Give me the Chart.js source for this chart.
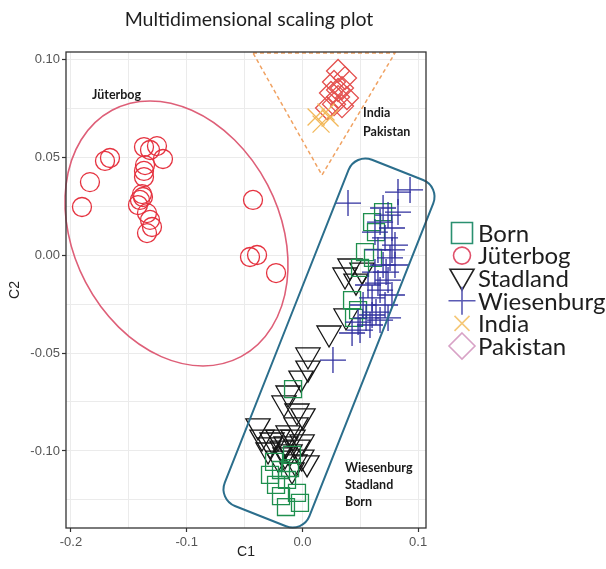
<!DOCTYPE html>
<html>
<head>
<meta charset="utf-8">
<script src="https://cdn.jsdelivr.net/npm/chart.js@4/dist/chart.umd.min.js"></script>
<style>
  html, body { margin: 0; padding: 0; background: #ffffff; }
  #wrap { width: 606px; height: 569px; position: relative; }
</style>
</head>
<body>
<div id="wrap"><canvas id="mds" width="606" height="569"></canvas></div>
<script>
// ---- MDS coordinates (C1, C2) for each population ----
const seriesNames = ['Born', 'Jüterbog', 'Stadland', 'Wiesenburg', 'India', 'Pakistan'];

const bornC1 = [0.0697, 0.0602, 0.0636, 0.0541, 0.0610, 0.0498, 0.0429, 0.0481, 0.0446, -0.0081,
                -0.0245, -0.0185, -0.0107, -0.0228, -0.0133, -0.0047, -0.0185, -0.0142, -0.0021, -0.0280, -0.0090];
const bornC2 = [0.0219, 0.0168, 0.0117, 0.0015, -0.0015, -0.0066, -0.0230, -0.0281, -0.0321, -0.0684,
                -0.1056, -0.1097, -0.1087, -0.1173, -0.1148, -0.1214, -0.1230, -0.1286, -0.1265, -0.1122, -0.1020];

const jutC1 = [-0.1905, -0.1836, -0.1706, -0.1663, -0.1369, -0.1257, -0.1317, -0.1205, -0.1360, -0.1369,
               -0.1369, -0.1386, -0.1378, -0.1404, -0.1421, -0.1343, -0.1317, -0.1300, -0.1343, -0.0427,
               -0.0453, -0.0392, -0.0228];
const jutC2 = [0.0245, 0.0372, 0.0480, 0.0495, 0.0551, 0.0556, 0.0536, 0.0490, 0.0459, 0.0429,
               0.0398, 0.0311, 0.0296, 0.0281, 0.0255, 0.0214, 0.0179, 0.0143, 0.0112, 0.0281,
               -0.0010, 0.0000, -0.0092];

const stadC1 = [0.0411, 0.0368, 0.0463, 0.0515, 0.0377, 0.0230, 0.0048, 0.0048, -0.0012, -0.0159,
                -0.0047, 0.0005, -0.0384, -0.0055, -0.0211, -0.0081, -0.0003, -0.0349, -0.0263, -0.0124,
                -0.0297, -0.0176, -0.0107, -0.0005, 0.0040, -0.0211, -0.0064, -0.0142, -0.0124,
                -0.0150, -0.0038, -0.0280, -0.0090];
const stadC2 = [-0.0056, -0.0102, -0.0133, -0.0077, -0.0311, -0.0398, -0.0510, -0.0577, -0.0628, -0.0755,
                -0.0796, -0.0821, -0.0872, -0.0867, -0.0929, -0.0929, -0.0954, -0.0929, -0.0944, -0.0908,
                -0.0995, -0.0985, -0.1005, -0.1031, -0.1061, -0.1036, -0.1056, -0.0964, -0.0704,
                -0.1020, -0.0980, -0.0969, -0.1097];

const wiesC1 = [0.0394, 0.0826, 0.0930, 0.0697, 0.0740, 0.0671, 0.0774, 0.0714, 0.0800, 0.0653,
                0.0757, 0.0697, 0.0627, 0.0740, 0.0671, 0.0602, 0.0714, 0.0636, 0.0550, 0.0584,
                0.0498, 0.0429, 0.0671, 0.0264, 0.0800, 0.0567,
                0.0774, 0.0723, 0.0653, 0.0774, 0.0524, 0.0602, 0.0740, 0.0481, 0.0627, 0.0826];
const wiesC2 = [0.0265, 0.0321, 0.0332, 0.0240, 0.0204, 0.0168, 0.0138, 0.0087, 0.0051, 0.0026,
                -0.0015, -0.0051, -0.0087, -0.0128, -0.0179, -0.0219, -0.0255, -0.0291, -0.0321, -0.0357,
                -0.0383, -0.0398, -0.0332, -0.0536, -0.0051, -0.0153,
                0.0026, -0.0087, -0.0143, -0.0204, -0.0255, -0.0306, -0.0321, -0.0342, 0.0117, 0.0219];

const indiaC1 = [0.0118, 0.0204, 0.0161, 0.0239];
const indiaC2 = [0.0704, 0.0730, 0.0668, 0.0699];

const pakC1 = [0.0308, 0.0368, 0.0273, 0.0342, 0.0247, 0.0308, 0.0385, 0.0273, 0.0342, 0.0213, 0.0308];
const pakC2 = [0.0939, 0.0903, 0.0883, 0.0852, 0.0827, 0.0806, 0.0801, 0.0770, 0.0760, 0.0750, 0.0842];

// ---- axes ----
const c1Range = [-0.2043, 0.1068];
const c2Range = [-0.1393, 0.1036];
const c1Ticks = [-0.2, -0.1, 0.0, 0.1];
const c1TickLabels = ['-0.2', '-0.1', '0.0', '0.1'];
const c1Minor = [-0.15, -0.05, 0.05];
const c2Ticks = [-0.10, -0.05, 0.00, 0.05, 0.10];
const c2TickLabels = ['-0.10', '-0.05', '0.00', '0.05', '0.10'];
const c2Minor = [-0.125, -0.075, -0.025, 0.025, 0.075];

// ---- group outlines (data units) ----
const jutEllipseCentre = [-0.1088, 0.0110];
const jutEllipseAxisA = [-0.0229, 0.0676];
const jutEllipseAxisB = [0.0936, 0.0];
const southAsiaTriangle = [[-0.0427, 0.1031], [0.0800, 0.1031], [0.0169, 0.0408]];
const germanBox = [[0.0456, 0.0520], [0.1188, 0.0349], [0.0003, -0.1418], [-0.0728, -0.1247]];

// ---- group labels (data units) ----
const groupLabels = [
  { text: 'Jüterbog', at: [-0.1818, 0.0816] },
  { text: 'India', at: [0.0524, 0.0724] },
  { text: 'Pakistan', at: [0.0524, 0.0628] },
  { text: 'Wiesenburg', at: [0.0368, -0.1087] },
  { text: 'Stadland', at: [0.0368, -0.1173] },
  { text: 'Born', at: [0.0368, -0.1260] }
];

const zip = (xs, ys) => xs.map((x, i) => ({ x: x, y: ys[i] }));
const idx = (v, arr) => arr.findIndex(a => Math.abs(a - v) < 1e-9);

// marker styling per series (same order as seriesNames)
const markers = [
  { style: 'rect',      radius: 12,   rotation: 0,   color: '#1f8f4e', key: 'square' },
  { style: 'circle',    radius: 9.5,  rotation: 0,   color: '#e5323f', key: 'circle' },
  { style: 'triangle',  radius: 14,   rotation: 180, color: '#151515', key: 'tri' },
  { style: 'cross',     radius: 13,   rotation: 0,   color: '#30309f', key: 'plus' },
  { style: 'crossRot',  radius: 12,   rotation: 0,   color: '#f2b85a', key: 'x' },
  { style: 'rectRot',   radius: 11.5, rotation: 0,   color: '#e4504e', key: 'diamond' }
];
const legendColors = ['#2a9070', '#e0506a', '#222222', '#5a5ab4', '#f5c878', '#d8a2c6'];
const drawOrder = [1, 2, 3, 0, 4, 5];

const seriesData = [
  zip(bornC1, bornC2), zip(jutC1, jutC2), zip(stadC1, stadC2),
  zip(wiesC1, wiesC2), zip(indiaC1, indiaC2), zip(pakC1, pakC2)
];

const datasets = seriesNames.map((name, i) => ({
  label: name,
  data: seriesData[i],
  order: drawOrder[i],
  pointStyle: markers[i].style,
  pointRadius: markers[i].radius,
  pointRotation: markers[i].rotation,
  pointBorderWidth: 1.3,
  pointBorderColor: markers[i].color,
  pointBackgroundColor: 'rgba(0,0,0,0)',
  showLine: false
}));

function legendSymbol(ctx, key, cx, cy, color) {
  ctx.save();
  ctx.strokeStyle = color;
  ctx.lineWidth = 1.6;
  ctx.beginPath();
  if (key === 'square') {
    ctx.rect(cx - 10.5, cy - 10.5, 21, 21);
  } else if (key === 'circle') {
    ctx.arc(cx, cy, 8.5, 0, Math.PI * 2);
  } else if (key === 'tri') {
    ctx.moveTo(cx - 12, cy - 9); ctx.lineTo(cx + 12, cy - 9); ctx.lineTo(cx, cy + 12); ctx.closePath();
  } else if (key === 'plus') {
    ctx.moveTo(cx - 13.5, cy); ctx.lineTo(cx + 13.5, cy);
    ctx.moveTo(cx, cy - 14); ctx.lineTo(cx, cy + 14);
  } else if (key === 'x') {
    ctx.moveTo(cx - 7.5, cy - 7.5); ctx.lineTo(cx + 7.5, cy + 7.5);
    ctx.moveTo(cx + 7.5, cy - 7.5); ctx.lineTo(cx - 7.5, cy + 7.5);
  } else if (key === 'diamond') {
    ctx.moveTo(cx, cy - 13); ctx.lineTo(cx + 13, cy); ctx.lineTo(cx, cy + 13); ctx.lineTo(cx - 13, cy); ctx.closePath();
  }
  ctx.stroke();
  ctx.restore();
}

function roundedPolygon(ctx, pts, r) {
  const n = pts.length;
  const last = pts[n - 1], first = pts[0];
  ctx.moveTo((last.x + first.x) / 2, (last.y + first.y) / 2);
  for (let i = 0; i < n; i++) {
    const p = pts[i], q = pts[(i + 1) % n];
    ctx.arcTo(p.x, p.y, q.x, q.y, r);
  }
  ctx.closePath();
}

const decorPlugin = {
  id: 'decor',
  afterDatasetsDraw(chart) {
    const ctx = chart.ctx;
    const xs = chart.scales.x, ys = chart.scales.y;
    const px = v => xs.getPixelForValue(v);
    const py = v => ys.getPixelForValue(v);
    const pt = d => ({ x: px(d[0]), y: py(d[1]) });

    // Jüterbog ellipse
    const kx = px(1) - px(0), ky = py(1) - py(0);
    const c = pt(jutEllipseCentre);
    ctx.save();
    ctx.save();
    ctx.transform(jutEllipseAxisA[0] * kx, jutEllipseAxisA[1] * ky,
                  jutEllipseAxisB[0] * kx, jutEllipseAxisB[1] * ky, c.x, c.y);
    ctx.beginPath();
    ctx.arc(0, 0, 1, 0, Math.PI * 2);
    ctx.restore();
    ctx.strokeStyle = '#de5f78';
    ctx.lineWidth = 1.6;
    ctx.stroke();

    // India / Pakistan dashed triangle
    const tri = southAsiaTriangle.map(pt);
    ctx.beginPath();
    ctx.moveTo(tri[0].x, tri[0].y);
    ctx.lineTo(tri[1].x, tri[1].y);
    ctx.lineTo(tri[2].x, tri[2].y);
    ctx.closePath();
    ctx.setLineDash([4, 3]);
    ctx.strokeStyle = '#f0a262';
    ctx.lineWidth = 1.5;
    ctx.stroke();
    ctx.setLineDash([]);

    // Wiesenburg / Stadland / Born rounded box
    ctx.beginPath();
    roundedPolygon(ctx, germanBox.map(pt), 18);
    ctx.strokeStyle = '#2b6e8c';
    ctx.lineWidth = 2;
    ctx.stroke();

    // group labels
    ctx.fillStyle = '#1a1a1a';
    ctx.font = 'bold 12.5px Lato, "Liberation Sans", sans-serif';
    ctx.textAlign = 'left';
    ctx.textBaseline = 'middle';
    groupLabels.forEach(l => {
      const p = pt(l.at);
      ctx.fillText(l.text, p.x, p.y);
    });
    ctx.restore();
  },
  afterDraw(chart) {
    const ctx = chart.ctx;
    const a = chart.chartArea;
    ctx.save();
    // panel border
    ctx.strokeStyle = '#333333';
    ctx.lineWidth = 1.3;
    ctx.strokeRect(a.left, a.top, a.right - a.left, a.bottom - a.top);

    // title
    ctx.fillStyle = '#1e1e1e';
    ctx.font = '19.5px Lato, "Open Sans", sans-serif';
    ctx.textAlign = 'center';
    ctx.textBaseline = 'middle';
    ctx.fillText('Multidimensional scaling plot', (a.left + a.right) / 2 + 3, 20);

    // legend
    const lx = a.right + 36, ty = 233, step = 22.6;
    ctx.font = '24px Lato, "Open Sans", sans-serif';
    ctx.textAlign = 'left';
    ctx.textBaseline = 'middle';
    seriesNames.forEach((name, i) => {
      const y = ty + i * step;
      legendSymbol(ctx, markers[i].key, lx, y, legendColors[i]);
      ctx.fillStyle = '#1e1e1e';
      ctx.fillText(name, lx + 16, y + 1);
    });
    ctx.restore();
  }
};

const tickFont = { family: '"Liberation Sans", Arial, sans-serif', size: 13 };

new Chart(document.getElementById('mds'), {
  type: 'scatter',
  data: { datasets: datasets },
  plugins: [decorPlugin],
  options: {
    responsive: false,
    animation: false,
    events: [],
    layout: { padding: { left: 0, top: 52, right: 180, bottom: 0 } },
    plugins: { legend: { display: false }, tooltip: { enabled: false }, title: { display: false } },
    scales: {
      x: {
        type: 'linear',
        min: c1Range[0], max: c1Range[1],
        afterBuildTicks(scale) {
          scale.ticks = c1Ticks.concat(c1Minor).sort((p, q) => p - q).map(v => ({ value: v }));
        },
        afterFit(scale) { scale.height = 41; },
        ticks: {
          autoSkip: false, maxRotation: 0, padding: 3,
          color: '#555555', font: tickFont,
          callback: v => { const i = idx(v, c1Ticks); return i >= 0 ? c1TickLabels[i] : ''; }
        },
        grid: {
          color: '#ebebeb', lineWidth: 1, tickLength: 4, tickWidth: 1.2,
          tickColor: ctx => (ctx.tick && idx(ctx.tick.value, c1Ticks) >= 0) ? '#333333' : 'rgba(0,0,0,0)'
        },
        border: { display: false },
        title: {
          display: true, text: 'C1', color: '#222222',
          font: { family: '"Liberation Sans", Arial, sans-serif', size: 14 },
          padding: { top: 0, bottom: 8 }
        }
      },
      y: {
        type: 'linear',
        min: c2Range[0], max: c2Range[1],
        afterBuildTicks(scale) {
          scale.ticks = c2Ticks.concat(c2Minor).sort((p, q) => p - q).map(v => ({ value: v }));
        },
        afterFit(scale) { scale.width = 66; },
        ticks: {
          autoSkip: false, padding: 2,
          color: '#555555', font: tickFont,
          callback: v => { const i = idx(v, c2Ticks); return i >= 0 ? c2TickLabels[i] : ''; }
        },
        grid: {
          color: '#ebebeb', lineWidth: 1, tickLength: 4, tickWidth: 1.2,
          tickColor: ctx => (ctx.tick && idx(ctx.tick.value, c2Ticks) >= 0) ? '#333333' : 'rgba(0,0,0,0)'
        },
        border: { display: false },
        title: {
          display: true, text: 'C2', color: '#222222',
          font: { family: '"Liberation Sans", Arial, sans-serif', size: 14 },
          padding: { top: 7, bottom: 0 }
        }
      }
    }
  }
});
</script>
</body>
</html>
